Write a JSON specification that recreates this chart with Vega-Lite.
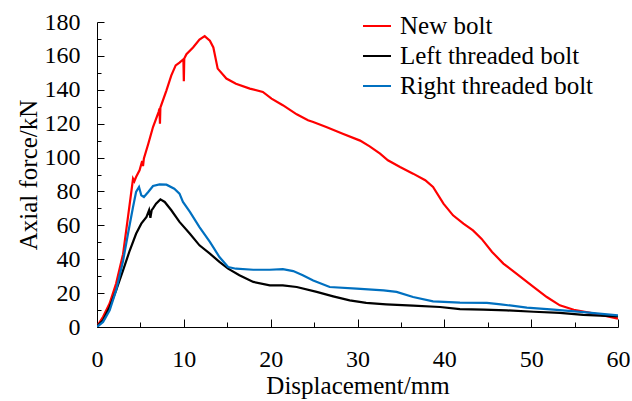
{
  "$schema": "https://vega.github.io/schema/vega-lite/v6.json",
  "autosize": "none",
  "width": 521,
  "height": 305,
  "padding": {"left": 97, "top": 22, "right": 14, "bottom": 74},
  "background": "white",
  "config": {
    "view": {"stroke": null},
    "font": "Liberation Serif",
    "axis": {"grid": false, "domainColor": "black", "domainWidth": 1, "tickColor": "black", "tickWidth": 1, "labelFont": "Liberation Serif", "titleFont": "Liberation Serif", "labelColor": "black", "titleColor": "black", "labelFontSize": 24, "titleFontSize": 25, "titleFontWeight": "normal"}
  },
  "data": {"values": [
    {"s":"New bolt","x":0,"y":0.5},{"s":"New bolt","x":0.7,"y":6},{"s":"New bolt","x":1.46,"y":14},{"s":"New bolt","x":2.2,"y":25.6},{"s":"New bolt","x":3.0,"y":43},{"s":"New bolt","x":3.57,"y":65},{"s":"New bolt","x":4.15,"y":87.5},{"s":"New bolt","x":4.3,"y":86},{"s":"New bolt","x":4.5,"y":88.5},{"s":"New bolt","x":4.9,"y":92.5},{"s":"New bolt","x":5.2,"y":98},{"s":"New bolt","x":5.3,"y":95},{"s":"New bolt","x":5.4,"y":99.5},{"s":"New bolt","x":5.9,"y":108},{"s":"New bolt","x":6.45,"y":118},{"s":"New bolt","x":7.1,"y":127},{"s":"New bolt","x":7.2,"y":129},{"s":"New bolt","x":7.25,"y":120},{"s":"New bolt","x":7.3,"y":129.5},{"s":"New bolt","x":8.0,"y":139.7},{"s":"New bolt","x":8.56,"y":148.5},{"s":"New bolt","x":9.06,"y":154.4},{"s":"New bolt","x":9.5,"y":156},{"s":"New bolt","x":9.95,"y":158},{"s":"New bolt","x":10.0,"y":145},{"s":"New bolt","x":10.05,"y":158.5},{"s":"New bolt","x":10.3,"y":161},{"s":"New bolt","x":11.06,"y":165},{"s":"New bolt","x":11.8,"y":169.6},{"s":"New bolt","x":12.4,"y":171.7},{"s":"New bolt","x":13.0,"y":169},{"s":"New bolt","x":13.4,"y":165},{"s":"New bolt","x":13.9,"y":152.5},{"s":"New bolt","x":14.9,"y":146.6},{"s":"New bolt","x":16.0,"y":143.6},{"s":"New bolt","x":17.6,"y":140.7},{"s":"New bolt","x":19.1,"y":138.7},{"s":"New bolt","x":20.1,"y":134.8},{"s":"New bolt","x":21.4,"y":130.9},{"s":"New bolt","x":23.0,"y":125.5},{"s":"New bolt","x":24.3,"y":122},{"s":"New bolt","x":24.9,"y":121},{"s":"New bolt","x":26.4,"y":118},{"s":"New bolt","x":28.3,"y":114},{"s":"New bolt","x":30.3,"y":110},{"s":"New bolt","x":31.4,"y":106.6},{"s":"New bolt","x":32.6,"y":102.3},{"s":"New bolt","x":33.5,"y":98.4},{"s":"New bolt","x":34.9,"y":94.4},{"s":"New bolt","x":36.4,"y":90.5},{"s":"New bolt","x":37.8,"y":86.6},{"s":"New bolt","x":38.7,"y":82.6},{"s":"New bolt","x":39.9,"y":72.8},{"s":"New bolt","x":41.0,"y":65.9},{"s":"New bolt","x":42.2,"y":61},{"s":"New bolt","x":43.3,"y":57},{"s":"New bolt","x":44.3,"y":52},{"s":"New bolt","x":45.5,"y":44.3},{"s":"New bolt","x":46.8,"y":37.4},{"s":"New bolt","x":48.3,"y":31.5},{"s":"New bolt","x":50.3,"y":23.6},{"s":"New bolt","x":51.8,"y":17.7},{"s":"New bolt","x":53.3,"y":12.8},{"s":"New bolt","x":54.9,"y":10.2},{"s":"New bolt","x":56.8,"y":8.3},{"s":"New bolt","x":58.3,"y":6.9},{"s":"New bolt","x":60,"y":4.9},
    {"s":"Left threaded bolt","x":0,"y":0.4},{"s":"Left threaded bolt","x":0.7,"y":4},{"s":"Left threaded bolt","x":1.46,"y":11.8},{"s":"Left threaded bolt","x":2.2,"y":21.6},{"s":"Left threaded bolt","x":3.0,"y":33.4},{"s":"Left threaded bolt","x":3.76,"y":45},{"s":"Left threaded bolt","x":4.5,"y":55},{"s":"Left threaded bolt","x":5.1,"y":61},{"s":"Left threaded bolt","x":5.7,"y":65},{"s":"Left threaded bolt","x":6.0,"y":69},{"s":"Left threaded bolt","x":6.15,"y":64.5},{"s":"Left threaded bolt","x":6.3,"y":69},{"s":"Left threaded bolt","x":6.45,"y":70},{"s":"Left threaded bolt","x":6.8,"y":72.8},{"s":"Left threaded bolt","x":7.3,"y":75.3},{"s":"Left threaded bolt","x":7.8,"y":73.8},{"s":"Left threaded bolt","x":8.56,"y":68.9},{"s":"Left threaded bolt","x":9.5,"y":62},{"s":"Left threaded bolt","x":10.7,"y":55},{"s":"Left threaded bolt","x":11.8,"y":48.2},{"s":"Left threaded bolt","x":13.0,"y":43.3},{"s":"Left threaded bolt","x":14.1,"y":38.4},{"s":"Left threaded bolt","x":15.1,"y":34.4},{"s":"Left threaded bolt","x":16.4,"y":30.5},{"s":"Left threaded bolt","x":18.0,"y":26.6},{"s":"Left threaded bolt","x":19.9,"y":24.6},{"s":"Left threaded bolt","x":21.4,"y":24.6},{"s":"Left threaded bolt","x":23.0,"y":23.6},{"s":"Left threaded bolt","x":25.3,"y":20.7},{"s":"Left threaded bolt","x":27.2,"y":18.1},{"s":"Left threaded bolt","x":29.1,"y":15.7},{"s":"Left threaded bolt","x":31.0,"y":14.2},{"s":"Left threaded bolt","x":33.3,"y":13.4},{"s":"Left threaded bolt","x":36.4,"y":12.6},{"s":"Left threaded bolt","x":39.5,"y":11.8},{"s":"Left threaded bolt","x":41.8,"y":10.6},{"s":"Left threaded bolt","x":44.5,"y":10.2},{"s":"Left threaded bolt","x":47.2,"y":9.8},{"s":"Left threaded bolt","x":50.3,"y":9.0},{"s":"Left threaded bolt","x":53.3,"y":8.3},{"s":"Left threaded bolt","x":56.0,"y":7.1},{"s":"Left threaded bolt","x":60,"y":6.3},
    {"s":"Right threaded bolt","x":0,"y":0},{"s":"Right threaded bolt","x":0.7,"y":3},{"s":"Right threaded bolt","x":1.46,"y":9.8},{"s":"Right threaded bolt","x":2.2,"y":21.6},{"s":"Right threaded bolt","x":3.0,"y":39},{"s":"Right threaded bolt","x":3.57,"y":55},{"s":"Right threaded bolt","x":4.15,"y":70.8},{"s":"Right threaded bolt","x":4.5,"y":79.7},{"s":"Right threaded bolt","x":4.84,"y":82.6},{"s":"Right threaded bolt","x":5.1,"y":77.7},{"s":"Right threaded bolt","x":5.4,"y":76.7},{"s":"Right threaded bolt","x":5.9,"y":79.7},{"s":"Right threaded bolt","x":6.45,"y":83.2},{"s":"Right threaded bolt","x":7.2,"y":84.2},{"s":"Right threaded bolt","x":8.0,"y":84},{"s":"Right threaded bolt","x":8.9,"y":81.6},{"s":"Right threaded bolt","x":9.5,"y":78.7},{"s":"Right threaded bolt","x":9.9,"y":73.8},{"s":"Right threaded bolt","x":10.7,"y":67.9},{"s":"Right threaded bolt","x":11.8,"y":59},{"s":"Right threaded bolt","x":13.0,"y":50.2},{"s":"Right threaded bolt","x":14.1,"y":41.3},{"s":"Right threaded bolt","x":15.1,"y":35.4},{"s":"Right threaded bolt","x":16.0,"y":34.4},{"s":"Right threaded bolt","x":18.0,"y":33.8},{"s":"Right threaded bolt","x":19.9,"y":33.8},{"s":"Right threaded bolt","x":21.4,"y":34.2},{"s":"Right threaded bolt","x":22.6,"y":33},{"s":"Right threaded bolt","x":23.7,"y":30.5},{"s":"Right threaded bolt","x":24.9,"y":27.5},{"s":"Right threaded bolt","x":26.8,"y":23.6},{"s":"Right threaded bolt","x":29.9,"y":22.6},{"s":"Right threaded bolt","x":33.0,"y":21.6},{"s":"Right threaded bolt","x":34.5,"y":20.7},{"s":"Right threaded bolt","x":36.4,"y":17.7},{"s":"Right threaded bolt","x":38.7,"y":15.1},{"s":"Right threaded bolt","x":41.8,"y":14.4},{"s":"Right threaded bolt","x":44.9,"y":14.2},{"s":"Right threaded bolt","x":46.5,"y":13.4},{"s":"Right threaded bolt","x":49.5,"y":11.4},{"s":"Right threaded bolt","x":52.6,"y":10.2},{"s":"Right threaded bolt","x":55.7,"y":8.9},{"s":"Right threaded bolt","x":60,"y":6.9}
  ]},
  "mark": {"type": "line", "strokeWidth": 2.2, "clip": true},
  "encoding": {
    "x": {"field": "x", "type": "quantitative", "title": "Displacement/mm",
      "scale": {"domain": [0, 60], "nice": false, "zero": false},
      "axis": {"values": [0,5,10,15,20,25,30,35,40,45,50,55,60],
        "labelExpr": "datum.value % 10 === 0 ? datum.label : ''",
        "tickSize": {"condition": {"test": "datum.value % 10 === 0", "value": -8}, "value": -5},
        "labelPadding": 28, "titlePadding": 2, "labelFlush": false}},
    "y": {"field": "y", "type": "quantitative", "title": "Axial force/kN",
      "scale": {"domain": [0, 180], "nice": false},
      "axis": {"values": [0,10,20,30,40,50,60,70,80,90,100,110,120,130,140,150,160,170,180],
        "labelExpr": "datum.value % 20 === 0 ? datum.label : ''",
        "tickSize": {"condition": {"test": "datum.value % 20 === 0", "value": -7}, "value": -4},
        "labelPadding": 24, "titlePadding": 3, "labelFlush": false}},
    "color": {"field": "s", "type": "nominal", "sort": null,
      "scale": {"domain": ["New bolt", "Left threaded bolt", "Right threaded bolt"], "range": ["#FF0000", "#000000", "#0070C0"]},
      "legend": {"title": null, "orient": "none", "legendX": 265, "legendY": -11, "padding": 0,
        "symbolType": "stroke", "symbolSize": 784, "symbolStrokeWidth": 2,
        "labelFont": "Liberation Serif", "labelFontSize": 25, "labelColor": "black", "labelOffset": 8, "rowPadding": 2, "labelLimit": 400}}
  }
}
